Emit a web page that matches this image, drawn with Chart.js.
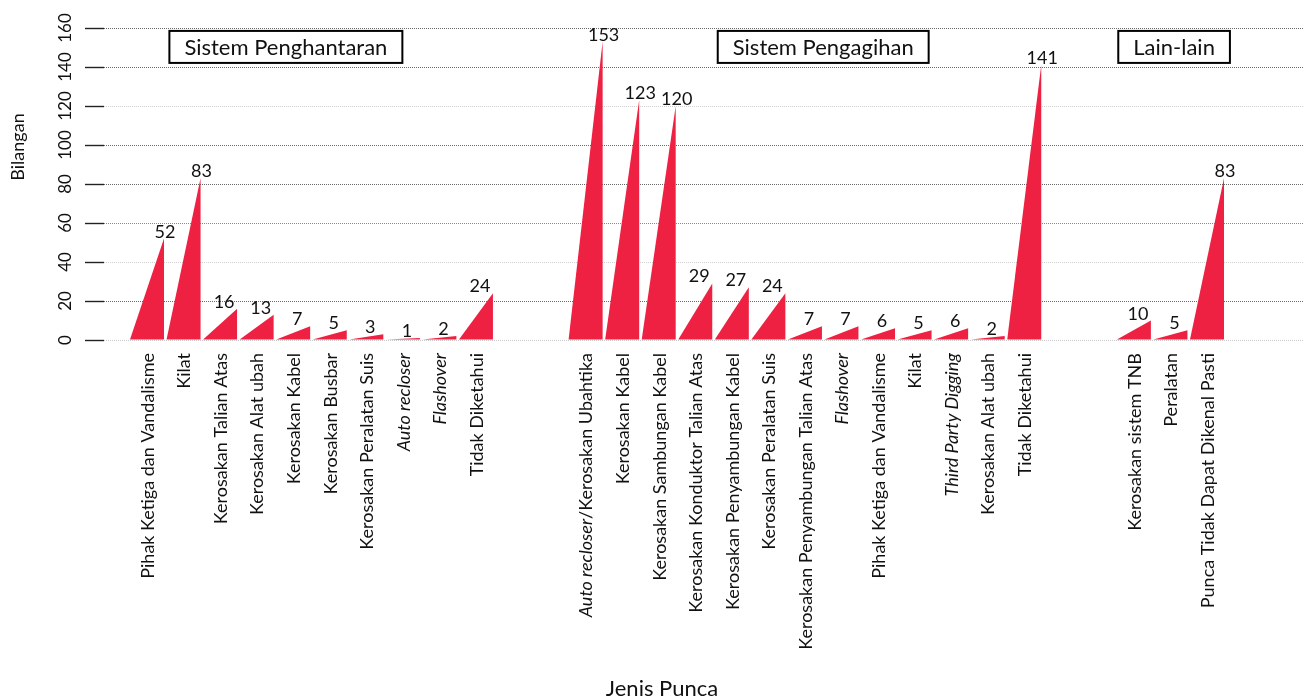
<!DOCTYPE html>
<html><head><meta charset="utf-8">
<script src="https://cdn.jsdelivr.net/npm/chart.js@4.4.1/dist/chart.umd.min.js"></script>
<style>html,body{margin:0;padding:0;background:#fff;}canvas{display:block;}</style>
</head><body>
<canvas id="c" width="1304" height="700"></canvas>
<script>
// ---- data ----
const groupTitles = ['Sistem Penghantaran', 'Sistem Pengagihan', 'Lain-lain'];
const penghantaranLabels = ['Pihak Ketiga dan Vandalisme', 'Kilat', 'Kerosakan Talian Atas', 'Kerosakan Alat ubah', 'Kerosakan Kabel', 'Kerosakan Busbar', 'Kerosakan Peralatan Suis', '_Auto recloser_', '_Flashover_', 'Tidak Diketahui'];
const penghantaranValues = [52, 83, 16, 13, 7, 5, 3, 1, 2, 24];
const pengagihanLabels = ['_Auto recloser_/Kerosakan Ubahtika', 'Kerosakan Kabel', 'Kerosakan Sambungan Kabel', 'Kerosakan Konduktor Talian Atas', 'Kerosakan Penyambungan Kabel', 'Kerosakan Peralatan Suis', 'Kerosakan Penyambungan Talian Atas', '_Flashover_', 'Pihak Ketiga dan Vandalisme', 'Kilat', '_Third Party Digging_', 'Kerosakan Alat ubah', 'Tidak Diketahui'];
const pengagihanValues = [153, 123, 120, 29, 27, 24, 7, 7, 6, 5, 6, 2, 141];
const lainLabels = ['Kerosakan sistem TNB', 'Peralatan', 'Punca Tidak Dapat Dikenal Pasti'];
const lainValues = [10, 5, 83];
const yTickValues = [0, 20, 40, 60, 80, 100, 120, 140, 160];
const xTitle = 'Jenis Punca';
const yTitle = 'Bilangan';

// ---- build ----
const GAP = 2;
const groups = [
  {labels: penghantaranLabels, values: penghantaranValues},
  {labels: pengagihanLabels, values: pengagihanValues},
  {labels: lainLabels, values: lainValues}
];
const points = [];
const allLabels = [];
let idx = 0;
groups.forEach((g) => {
  g.values.forEach((v, i) => {
    points.push({x: idx, y: v});
    allLabels.push({x: idx, text: g.labels[i]});
    idx++;
  });
  idx += GAP;
});

const FONT = 'Lato';
const RED = '#EE2142';
// title boxes placed in data coordinates (x: category index, y: value)
const boxPlacement = [{x: 3.8, y: 150.3}, {x: 18.5, y: 150.3}, {x: 28.1, y: 150.3}];

function parseSegments(t) {
  const parts = t.split('_');
  const segs = [];
  parts.forEach((p, i) => { if (p.length) segs.push({text: p, italic: i % 2 === 1}); });
  return segs;
}

const gridColors = {0: '#c8c8c8', 20: '#6a6a6a', 40: '#d0d0d0', 60: '#8a8a8a', 80: '#666', 100: '#6a6a6a', 120: '#d0d0d0', 140: '#6a6a6a', 160: '#6a6a6a'};

const trianglePlugin = {
  id: 'triangles',
  beforeDatasetDraw(chart, args) {
    const meta = args.meta;
    const ctx = chart.ctx;
    ctx.save();
    ctx.fillStyle = RED;
    meta.data.forEach(el => {
      const p = el.getProps(['x', 'y', 'base', 'width'], true);
      const l = p.x - p.width / 2, r = p.x + p.width / 2;
      ctx.beginPath();
      ctx.moveTo(l, p.base);
      ctx.lineTo(r, p.y);
      ctx.lineTo(r, p.base);
      ctx.closePath();
      ctx.fill();
    });
    // value labels
    ctx.fillStyle = '#111';
    ctx.font = '18px ' + FONT;
    ctx.textAlign = 'center';
    ctx.textBaseline = 'alphabetic';
    meta.data.forEach((el, i) => {
      const p = el.getProps(['x', 'y', 'base', 'width'], true);
      const v = points[i].y;
      const lx = v >= 50 ? p.x + p.width / 2 + 1 : p.x + 4;
      ctx.fillText(String(v), lx, p.y - 1);
    });
    ctx.restore();
    return false;
  },
  afterDraw(chart) {
    const ctx = chart.ctx;
    const xs = chart.scales.x, ys = chart.scales.y;
    ctx.save();
    ctx.fillStyle = '#111';
    // y tick labels (rotated)
    ctx.font = '17px ' + FONT;
    ctx.textAlign = 'center';
    ctx.textBaseline = 'middle';
    yTickValues.forEach(v => {
      ctx.save();
      ctx.translate(66, ys.getPixelForValue(v));
      ctx.rotate(-Math.PI / 2);
      ctx.fillText(String(v), 0, 0);
      ctx.restore();
    });
    // y title
    ctx.save();
    ctx.font = '18px ' + FONT;
    ctx.translate(18, 147);
    ctx.rotate(-Math.PI / 2);
    ctx.fillText(yTitle, 0, 0);
    ctx.restore();
    // x title
    ctx.font = '22px ' + FONT;
    ctx.fillText(xTitle, 662, 689);
    // category labels
    const catSize = 18;
    allLabels.forEach(l => {
      const segs = parseSegments(l.text);
      const px = xs.getPixelForValue(l.x) + 1;
      ctx.save();
      ctx.translate(px, 353);
      ctx.rotate(-Math.PI / 2);
      ctx.textAlign = 'left';
      ctx.textBaseline = 'middle';
      let total = 0;
      segs.forEach(s => { ctx.font = (s.italic ? 'italic ' : '') + catSize + 'px ' + FONT; s.w = ctx.measureText(s.text).width; total += s.w; });
      let cx = -total;
      segs.forEach(s => { ctx.font = (s.italic ? 'italic ' : '') + catSize + 'px ' + FONT; ctx.fillText(s.text, cx, 0); cx += s.w; });
      ctx.restore();
    });
    // group title boxes
    ctx.font = '22px ' + FONT;
    ctx.textAlign = 'center';
    ctx.textBaseline = 'middle';
    groupTitles.forEach((t, i) => {
      const cx = xs.getPixelForValue(boxPlacement[i].x);
      const cy = ys.getPixelForValue(boxPlacement[i].y);
      const w = ctx.measureText(t).width + 30;
      const h = 32;
      ctx.fillStyle = '#fff';
      ctx.fillRect(cx - w / 2, cy - h / 2, w, h);
      ctx.lineWidth = 2;
      ctx.strokeStyle = '#000';
      ctx.strokeRect(cx - w / 2, cy - h / 2, w, h);
      ctx.fillStyle = '#111';
      ctx.fillText(t, cx, cy + 1);
    });
    ctx.restore();
  }
};

Chart.defaults.font.family = FONT;
new Chart(document.getElementById('c'), {
  type: 'bar',
  data: {
    datasets: [{
      data: points,
      backgroundColor: RED,
      categoryPercentage: 1,
      barPercentage: 0.93
    }]
  },
  options: {
    responsive: false,
    animation: false,
    devicePixelRatio: 1,
    layout: {padding: {left: 85, top: 28, right: 0, bottom: 360}},
    plugins: {legend: {display: false}, tooltip: {enabled: false}},
    scales: {
      x: {
        type: 'linear',
        display: false,
        min: -1.176,
        max: 31.654,
        offset: false
      },
      y: {
        min: 0,
        max: 160,
        afterBuildTicks: (s) => { s.ticks = yTickValues.map(v => ({value: v})); },
        ticks: {display: false},
        border: {display: false, dash: [1, 1]},
        grid: {
          color: (c) => gridColors[c.tick.value] || '#999',
          lineWidth: 1,
          drawTicks: true,
          tickLength: 19,
          tickColor: '#222',
          tickWidth: 1.4,
          tickBorderDash: []
        }
      }
    }
  },
  plugins: [trianglePlugin]
});
</script>
</body></html>
